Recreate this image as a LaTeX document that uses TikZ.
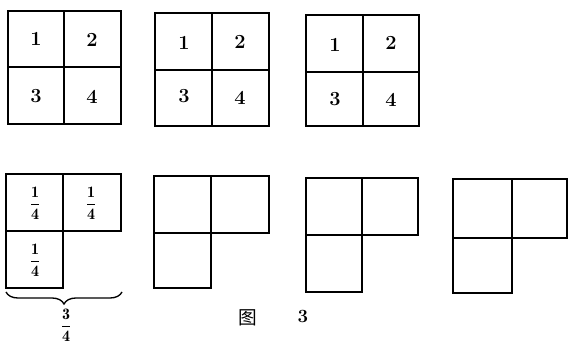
\documentclass[tikz,border=0pt]{standalone}
\usepackage{fontspec}
\newfontfamily\cjk{Noto Sans CJK SC}
\usetikzlibrary{decorations.pathreplacing}
\tikzset{
  grid/.style={line width=1.6pt, line join=miter},
  num/.style={font=\fontsize{15}{17}\selectfont\bfseries, inner sep=0pt},
  frac/.style={font=\fontsize{12}{14}\selectfont, inner sep=0pt},
  caption/.style={font=\fontsize{14}{16}\selectfont, inner sep=0pt},
}
\begin{document}
\begin{tikzpicture}[x=0.75pt,y=-0.75pt]
\useasboundingbox (0,0) rectangle (571,345);
% top row: full 2x2 squares
% grid 1
\draw[grid] (8,11) rectangle (121,124) (64,11) -- (64,124) (8,67) -- (121,67);
\node[num] (a1) at (36,39) {1};
\node[num] (a2) at (92,40) {2};
\node[num] (a3) at (36,96) {3};
\node[num] (a4) at (92,97) {4};
% grid 2
\draw[grid] (155,13) rectangle (269,126) (212,13) -- (212,126) (155,70) -- (269,70);
\node[num] (b1) at (184,43) {1};
\node[num] (b2) at (240,42) {2};
\node[num] (b3) at (184,96) {3};
\node[num] (b4) at (240,98) {4};
% grid 3
\draw[grid] (306,15) rectangle (419,126) (363,15) -- (363,126) (306,72) -- (419,72);
\node[num] (c1) at (335,45) {1};
\node[num] (c2) at (391,43) {2};
\node[num] (c3) at (335,99) {3};
\node[num] (c4) at (391,100) {4};
% bottom row: L shapes
\draw[grid] (6,174) -- (121,174) -- (121,231) -- (63,231) -- (63,288) -- (6,288) -- cycle
  (63,174) -- (63,231) (6,231) -- (63,231);
\node[frac] (d1) at (35,203) {$\displaystyle\mathbf{\frac{1}{4}}$};
\node[frac] (d2) at (91,203) {$\displaystyle\mathbf{\frac{1}{4}}$};
\node[frac] (d3) at (35,260) {$\displaystyle\mathbf{\frac{1}{4}}$};
\draw[grid] (154,176) -- (269,176) -- (269,233) -- (211,233) -- (211,288) -- (154,288) -- cycle
  (211,176) -- (211,233) (154,233) -- (211,233);
\draw[grid] (306,178) -- (418,178) -- (418,235) -- (362,235) -- (362,292) -- (306,292) -- cycle
  (362,178) -- (362,235) (306,235) -- (362,235);
\draw[grid] (453,179) -- (567,179) -- (567,238) -- (512,238) -- (512,293) -- (453,293) -- cycle
  (512,179) -- (512,238) (453,238) -- (512,238);
% brace
\coordinate (bl) at (6,292);
\coordinate (br) at (122,292);
\draw[line width=1pt, decorate, decoration={brace, amplitude=9pt, mirror}] (bl) -- (br);
\node[frac] (tot) at (66,325) {$\displaystyle\mathbf{\frac{3}{4}}$};
% caption
\node[caption] (fig) at (248,318) {\cjk 图};
\node[caption, font=\fontsize{14}{16}\selectfont\bfseries] (fignum) at (303,316) {3};
\end{tikzpicture}
\end{document}
